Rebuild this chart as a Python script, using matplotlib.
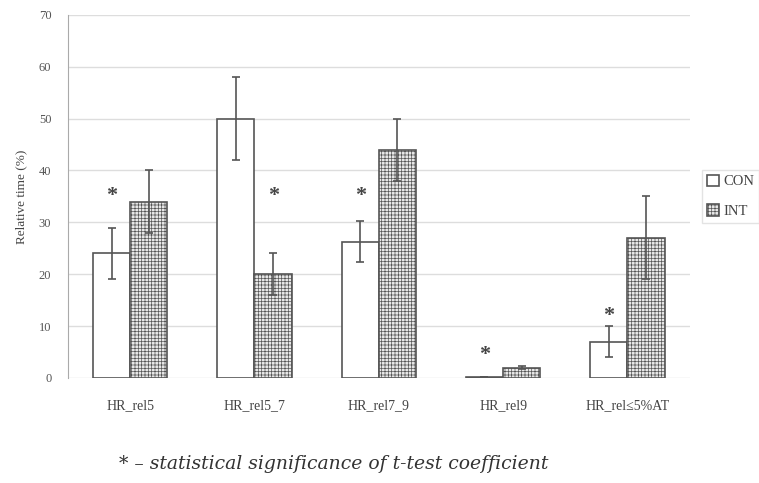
import matplotlib.pyplot as plt
import numpy as np

categories = ["HR_rel5", "HR_rel5_7", "HR_rel7_9", "HR_rel9", "HR_rel≤5%AT"]
con_values = [24, 50, 26.3, 0.2, 7]
con_err = [5, 8, 4, 0, 3]
int_values = [34, 20, 44, 2, 27]
int_err = [6, 4, 6, 0.3, 8]
# asterisk positions: (category index, series offset, height)
star_marks = [(0, -1, 35), (1, 1, 35), (2, -1, 35), (3, -1, 4.5), (4, -1, 12)]

plt.rcParams["font.family"] = ["Liberation Serif", "DejaVu Serif"]
plt.rcParams["hatch.linewidth"] = 0.5
plt.rcParams["hatch.color"] = "#777777"

fig = plt.figure(figsize=(7.59, 4.83), dpi=100)
ax = fig.add_axes([0.0896, 0.2174, 0.819, 0.752])

x = np.arange(len(categories))
w = 0.30
ax.bar(x - w / 2, con_values, w, color="white", edgecolor="#555555", linewidth=1.2,
       yerr=con_err, error_kw=dict(ecolor="#555555", elinewidth=1.2, capsize=3, capthick=1.2),
       label="CON", zorder=3)
ax.bar(x + w / 2, int_values, w, color="#e8e8e8", edgecolor="#555555", linewidth=1.2,
       hatch="+++++", yerr=int_err,
       error_kw=dict(ecolor="#555555", elinewidth=1.2, capsize=3, capthick=1.2),
       label="INT", zorder=3)

for i, side, h in star_marks:
    ax.text(x[i] + side * w / 2, h, "*", ha="center", va="center", fontsize=16,
            color="#444444", fontweight="bold", zorder=4)

ax.set_xlim(-0.5, len(categories) - 0.5)
ax.set_ylim(0, 70)
ax.set_yticks(range(0, 71, 10))
ax.yaxis.grid(True, color="#dddddd", linewidth=1)
ax.set_axisbelow(True)
for s in ["top", "right", "bottom"]:
    ax.spines[s].set_visible(False)
ax.spines["left"].set_color("#aaaaaa")
ax.tick_params(axis="y", length=0, labelsize=9, colors="#555555", pad=12)
ax.tick_params(axis="x", length=0, labelsize=10, colors="#444444", pad=15)
ax.set_xticks(x)
ax.set_xticklabels(categories)
ax.set_ylabel("Relative time (%)", fontsize=9.5, color="#444444", labelpad=8)

ax.legend(loc="center left", bbox_to_anchor=(1.008, 0.5), frameon=True, fontsize=10.5,
          handlelength=0.8, handleheight=0.8, handletextpad=0.3, borderpad=0.35,
          labelspacing=1.1, edgecolor="#dddddd", fancybox=False, labelcolor="#444444")

fig.text(0.157, 0.03, "* – statistical significance of t-test coefficient",
         fontsize=13.5, style="italic", color="#333333", family="DejaVu Serif")

fig.savefig("out.png", dpi=100)
